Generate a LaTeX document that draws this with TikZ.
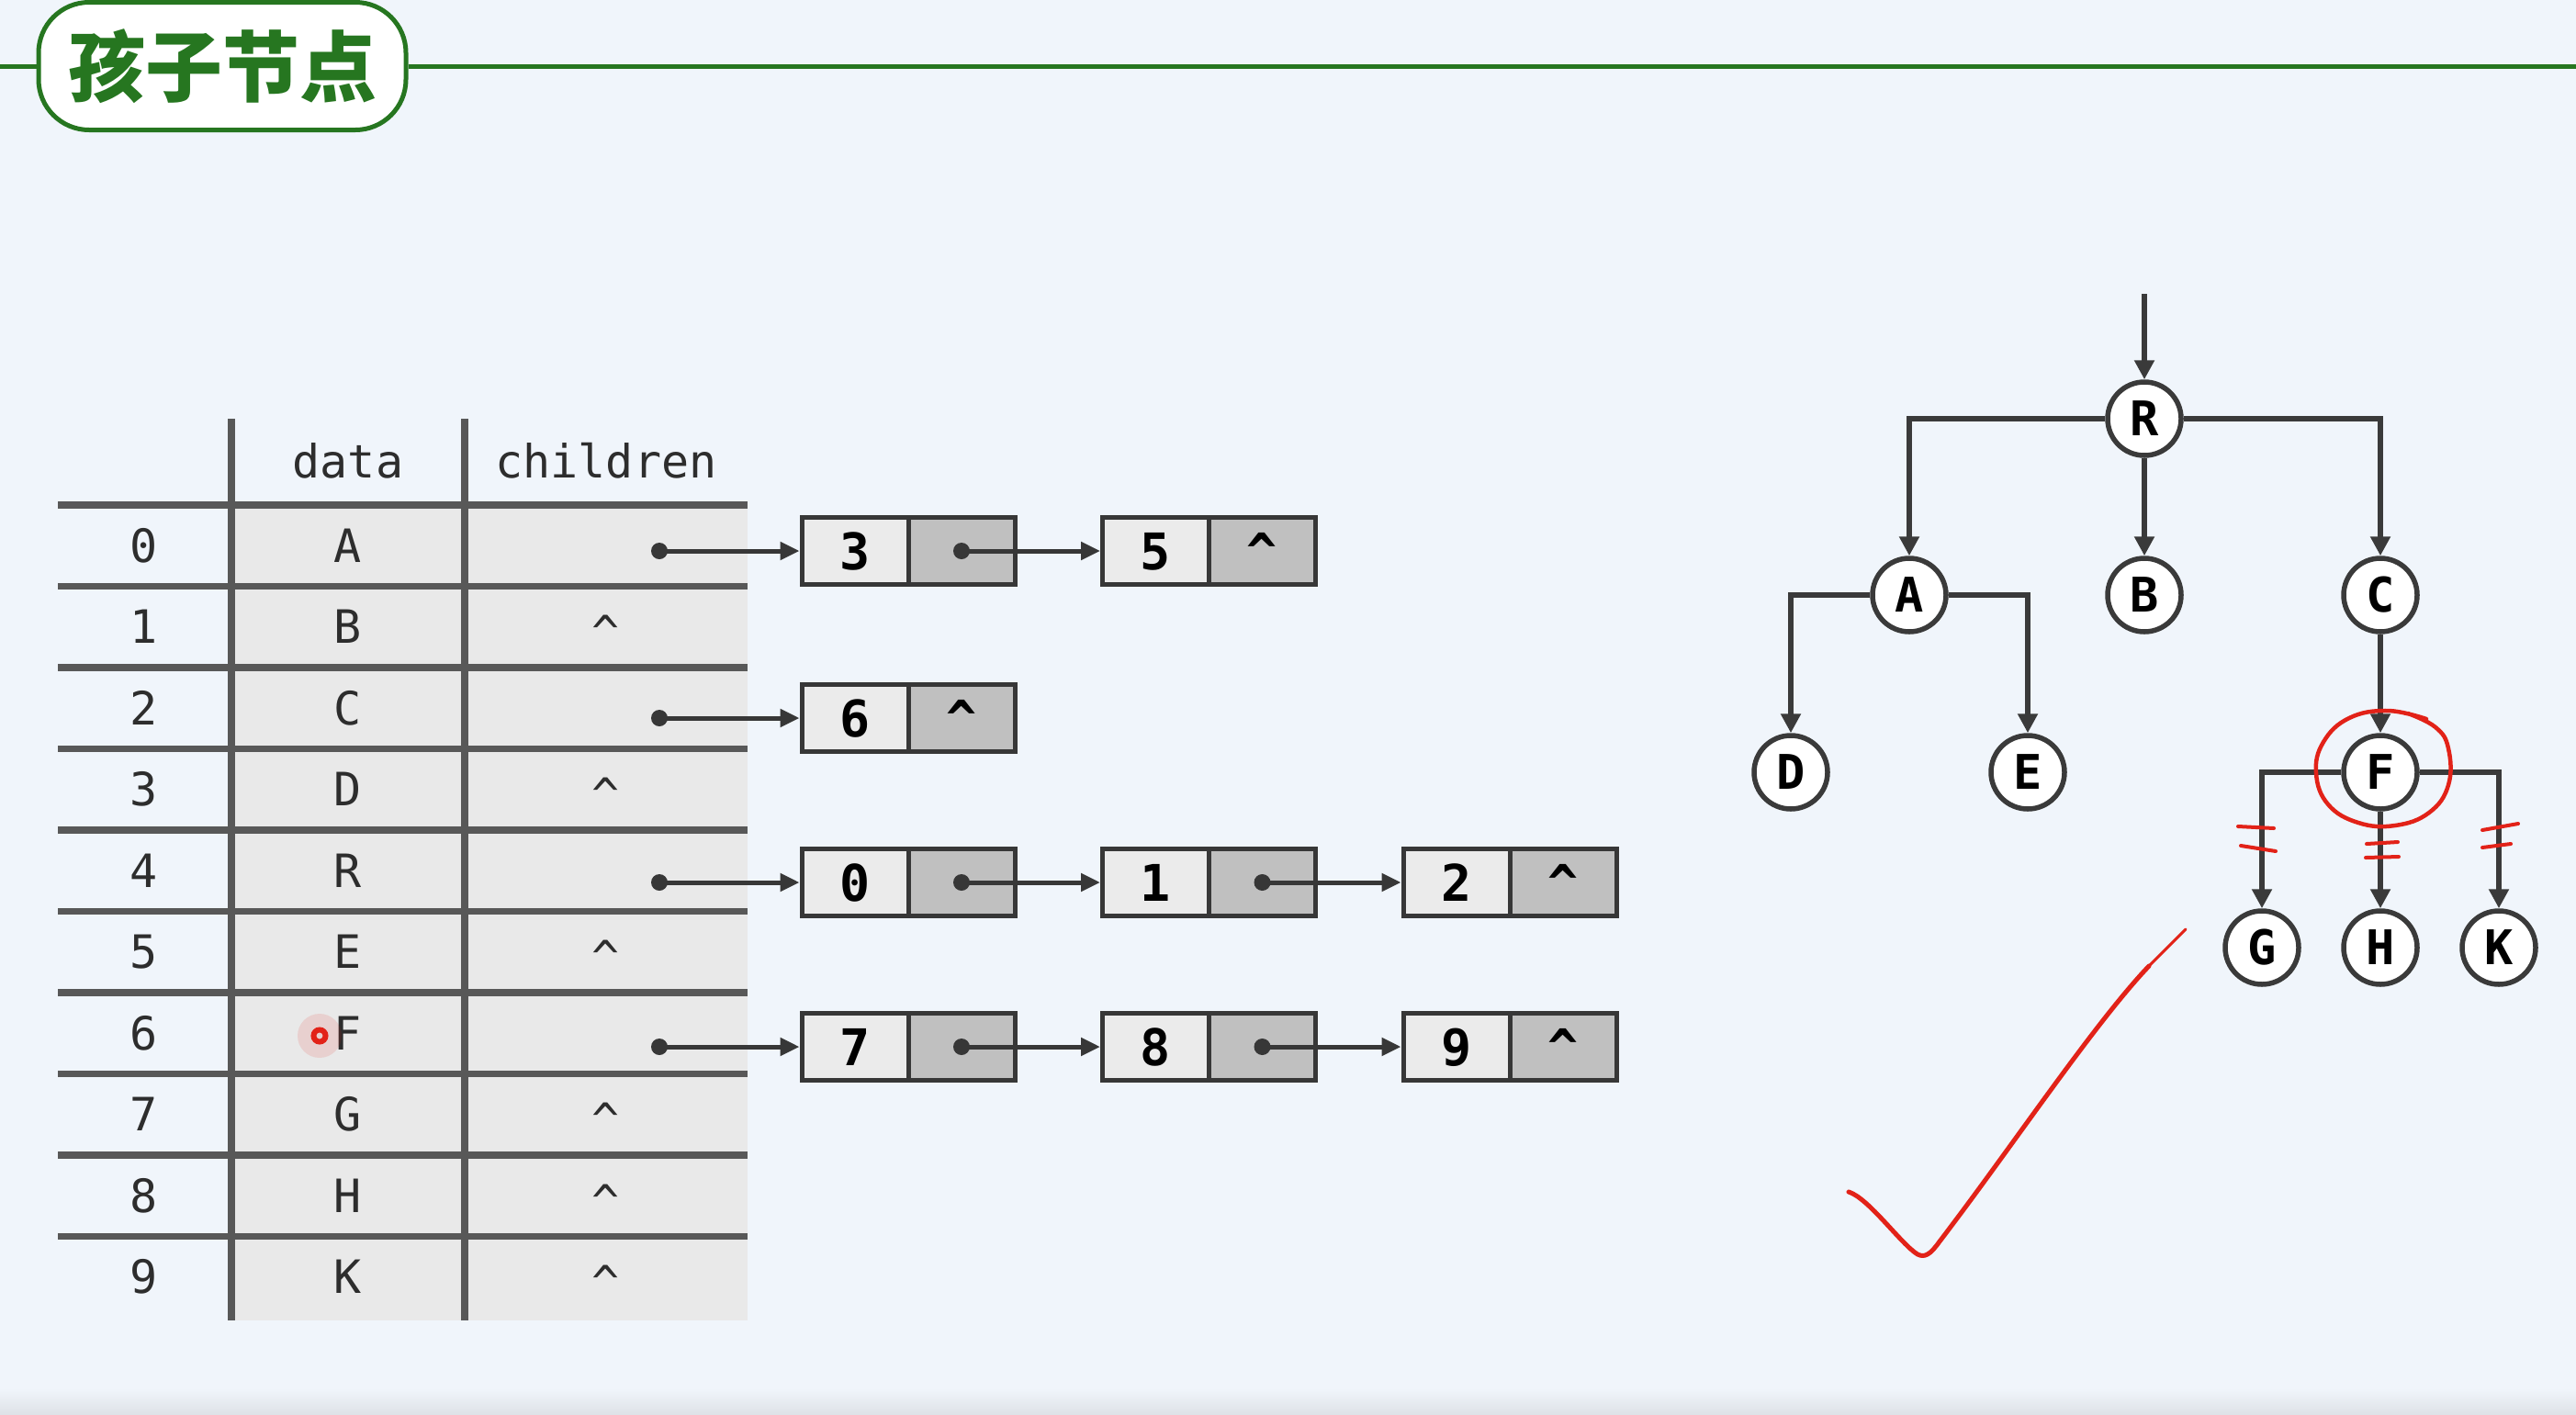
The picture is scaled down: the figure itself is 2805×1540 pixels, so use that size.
\documentclass[tikz,border=0pt]{standalone}
\usepackage{fontspec}
\setmonofont{DejaVu Sans Mono}
\newfontfamily\cjk{Noto Sans CJK SC}
\usetikzlibrary{arrows.meta,calc}
\definecolor{bgc}{RGB}{240,245,251}
\definecolor{tgreen}{RGB}{38,118,32}
\definecolor{tablec}{RGB}{88,88,88}
\definecolor{cellbg}{RGB}{233,233,233}
\definecolor{txtc}{RGB}{45,45,45}
\definecolor{boxc}{RGB}{55,55,55}
\definecolor{cellA}{RGB}{235,235,235}
\definecolor{cellB}{RGB}{192,192,192}
\definecolor{treec}{RGB}{58,58,58}
\definecolor{redc}{RGB}{226,34,24}
\definecolor{botc}{RGB}{222,226,231}
\begin{document}
\begin{tikzpicture}[x=1pt,y=-1pt,
  pill/.style={draw=tgreen, line width=5pt, fill=white, rounded corners=55pt,
    minimum width=400pt, minimum height=139pt, inner sep=0pt,
    font=\cjk\bfseries\fontsize{84}{90}\selectfont, text=tgreen},
  gline/.style={draw=tgreen, line width=5pt},
  tline/.style={draw=tablec, line width=7.5pt},
  ttext/.style={font=\ttfamily\fontsize{50}{60}\selectfont, text=txtc, anchor=base, inner sep=0pt},
  cellD/.style={draw=boxc, line width=5pt, fill=cellA, minimum width=116pt, minimum height=73pt,
    inner sep=0pt, text height=40pt, text depth=0pt,
    font=\ttfamily\bfseries\fontsize{55}{60}\selectfont, text=black},
  cellP/.style={cellD, fill=cellB},
  ptr/.style={circle, fill=boxc, inner sep=0pt, minimum size=18pt},
  larr/.style={draw=boxc, line width=5pt, -{Triangle[length=21pt,width=19pt]}},
  tnode/.style={circle, draw=treec, line width=5.5pt, fill=white, minimum size=80pt, inner sep=0pt,
    font=\ttfamily\bfseries\fontsize{52}{60}\selectfont, text=black},
  tarr/.style={draw=treec, line width=5.5pt, -{Triangle[length=21pt,width=21pt]}},
  redpen/.style={draw=redc, line width=4.5pt, line cap=round, line join=round}
]
% background
\useasboundingbox (0,0) rectangle (2805,1540);
\fill[bgc] (0,0) rectangle (2805,1540);
\shade[top color=bgc, bottom color=botc] (0,1512) rectangle (2805,1540);

% title
\coordinate (tl) at (0,72);
\coordinate (tr) at (2805,72);
\node[pill] (title) at (242,72) {孩子节点};
\draw[gline] (tl) -- (title.west);
\draw[gline] (title.east) -- (tr);

% table
\fill[cellbg] (252,550) rectangle (814,1438);
\foreach \k in {0,...,9} {
  \draw[tline] (63,{550+88.5*\k}) -- (814,{550+88.5*\k});
}
\draw[tline] (252,456) -- (252,1438);
\draw[tline] (506,456) -- (506,1438);
\node[ttext] (hdata) at (379,520) {data};
\node[ttext] (hchild) at (660,520) {children};

\foreach \k/\l in {0/A,1/B,2/C,3/D,4/R,5/E,6/F,7/G,8/H,9/K} {
  \node[ttext] (i\k) at (157,{594.25+88.5*\k+18}) {\k};
  \node[ttext] (d\k) at (379,{594.25+88.5*\k+18}) {\l};
}
\foreach \k in {1,3,5,7,8,9} {
  \node[ttext] (c\k) at (660,{594.25+88.5*\k+24}) {\textasciicircum};
}

% red pointer mark
\fill[redc, opacity=0.12] (348,1128) circle (24);
\draw[redc, line width=6pt] (348,1128) circle (6.5);

% row 0 list
\node[ptr] (t0) at (718,600) {};
\node[cellD] (l0aD) at (931,600) {3};
\node[cellP] (l0aP) at (1047,600) {};
\node[ptr] (l0aX) at (1047,600) {};
\node[cellD] (l0bD) at (1258.5,600) {5};
\node[cellP] (l0bP) at (1374.5,600) {\textasciicircum};
\draw[larr] (t0.center) -- (l0aD.west);
\draw[larr] (l0aX.center) -- (l0bD.west);

% row 2 list
\node[ptr] (t2) at (718,782) {};
\node[cellD] (l2aD) at (931,782) {6};
\node[cellP] (l2aP) at (1047,782) {\textasciicircum};
\draw[larr] (t2.center) -- (l2aD.west);

% row 4 list
\node[ptr] (t4) at (718,961) {};
\node[cellD] (l4aD) at (931,961) {0};
\node[cellP] (l4aP) at (1047,961) {};
\node[ptr] (l4aX) at (1047,961) {};
\node[cellD] (l4bD) at (1258.5,961) {1};
\node[cellP] (l4bP) at (1374.5,961) {};
\node[ptr] (l4bX) at (1374.5,961) {};
\node[cellD] (l4cD) at (1586,961) {2};
\node[cellP] (l4cP) at (1702,961) {\textasciicircum};
\draw[larr] (t4.center) -- (l4aD.west);
\draw[larr] (l4aX.center) -- (l4bD.west);
\draw[larr] (l4bX.center) -- (l4cD.west);

% row 6 list
\node[ptr] (t6) at (718,1140) {};
\node[cellD] (l6aD) at (931,1140) {7};
\node[cellP] (l6aP) at (1047,1140) {};
\node[ptr] (l6aX) at (1047,1140) {};
\node[cellD] (l6bD) at (1258.5,1140) {8};
\node[cellP] (l6bP) at (1374.5,1140) {};
\node[ptr] (l6bX) at (1374.5,1140) {};
\node[cellD] (l6cD) at (1586,1140) {9};
\node[cellP] (l6cP) at (1702,1140) {\textasciicircum};
\draw[larr] (t6.center) -- (l6aD.west);
\draw[larr] (l6aX.center) -- (l6bD.west);
\draw[larr] (l6bX.center) -- (l6cD.west);

% tree
\node[tnode] (R) at (2335,456) {R};
\node[tnode] (A) at (2079,648) {A};
\node[tnode] (B) at (2335,648) {B};
\node[tnode] (C) at (2592,648) {C};
\node[tnode] (D) at (1950,841) {D};
\node[tnode] (E) at (2208,841) {E};
\node[tnode] (F) at (2592,841) {F};
\node[tnode] (G) at (2463,1032) {G};
\node[tnode] (H) at (2592,1032) {H};
\node[tnode] (K) at (2721,1032) {K};
\coordinate (Rin) at (2335,320);
\draw[tarr] (Rin) -- (R.north);
\draw[tarr] (R.west) -| (A.north);
\draw[tarr] (R.south) -- (B.north);
\draw[tarr] (R.east) -| (C.north);
\draw[tarr] (A.west) -| (D.north);
\draw[tarr] (A.east) -| (E.north);
\draw[tarr] (C.south) -- (F.north);
\draw[tarr] (F.west) -| (G.north);
\draw[tarr] (F.south) -- (H.north);
\draw[tarr] (F.east) -| (K.north);

% red annotations
\draw[redpen] plot[smooth, tension=0.7] coordinates {(2642,783) (2600,774) (2558,782) (2530,808) (2522,842) (2535,876) (2568,896) (2608,899) (2645,885) (2666,855) (2666,815) (2652,792) (2622,777)};
\draw[redpen, line width=4pt] (2437,900) -- (2476,902);
\draw[redpen, line width=4pt] (2440,921) -- (2478,927);
\draw[redpen, line width=4pt] (2577,919) -- (2611,917);
\draw[redpen, line width=4pt] (2576,934) -- (2612,933);
\draw[redpen, line width=4pt] (2703,904) -- (2742,897);
\draw[redpen, line width=4pt] (2703,923) -- (2734,919);
\draw[redpen, line width=5pt] (2013,1298) .. controls (2035,1305) and (2070,1355) .. (2088,1366)
  .. controls (2096,1370) and (2102,1366) .. (2112,1352)
  .. controls (2190,1250) and (2280,1115) .. (2340,1052);
\draw[redpen, line width=3pt] (2340,1052) .. controls (2355,1037) and (2368,1024) .. (2380,1012);
\end{tikzpicture}
\end{document}
